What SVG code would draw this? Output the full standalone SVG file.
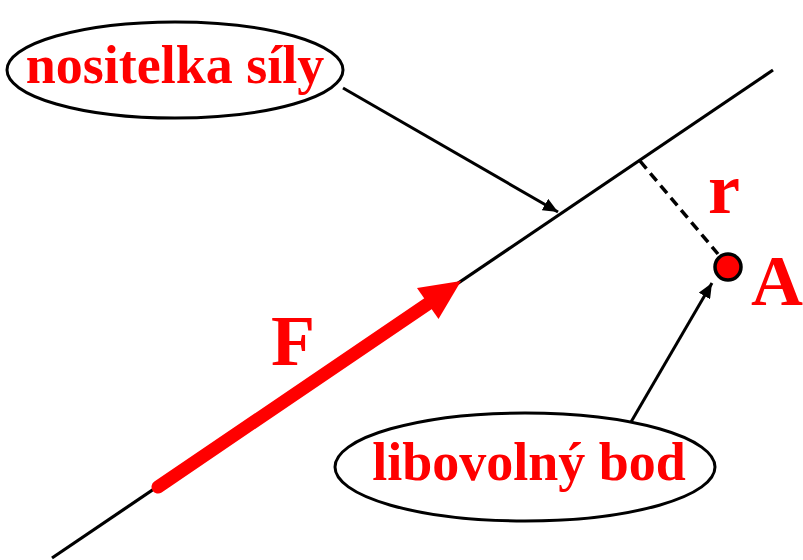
<svg xmlns="http://www.w3.org/2000/svg" width="803" height="560" viewBox="0 0 803 560">
<style>
.lbl{font-family:"Liberation Serif","Times New Roman",serif;font-weight:bold;fill:#ff0000}
.ell{fill:#fff;stroke:#000;stroke-width:3}
.conn{stroke:#000;fill:none}
</style>
<defs>
<marker id="ah" markerUnits="userSpaceOnUse" markerWidth="15" markerHeight="13" refX="15" refY="6.5" orient="auto">
<path d="M0,0 L15,6.5 L0,13 z" fill="#000"/>
</marker>
</defs>
<rect width="803" height="560" fill="#fff"/>
<g id="connectors">
<line class="conn" x1="52" y1="558" x2="773" y2="70" stroke-width="3.2"/>
<line class="conn" x1="640" y1="161" x2="718" y2="254" stroke-width="3.5" stroke-dasharray="10,6"/>
<line class="conn" x1="343" y1="88" x2="558" y2="212" stroke-width="3" marker-end="url(#ah)"/>
<line class="conn" x1="631" y1="422" x2="712" y2="283" stroke-width="3" marker-end="url(#ah)"/>
</g>
<g id="force">
<line x1="158" y1="487" x2="432" y2="301" stroke="#ff0000" stroke-width="13" stroke-linecap="round"/>
<polygon points="461,281 438.5,319 417,288" fill="#ff0000"/>
<text class="lbl" x="271" y="365" font-size="72">F</text>
</g>
<g id="nositelka">
<ellipse class="ell" cx="175" cy="70" rx="168" ry="48"/>
<text class="lbl" x="175" y="83" font-size="54" text-anchor="middle">nositelka síly</text>
</g>
<g id="libovolny">
<ellipse class="ell" cx="525" cy="467" rx="190" ry="54"/>
<text class="lbl" x="529" y="480" font-size="54" text-anchor="middle">libovolný bod</text>
</g>
<g id="pointA">
<circle cx="728" cy="267" r="13" fill="#ff0000" stroke="#000" stroke-width="3.5"/>
<text class="lbl" x="751" y="305" font-size="72">A</text>
</g>
<g id="r">
<text class="lbl" x="708" y="213" font-size="72">r</text>
</g>
</svg>
